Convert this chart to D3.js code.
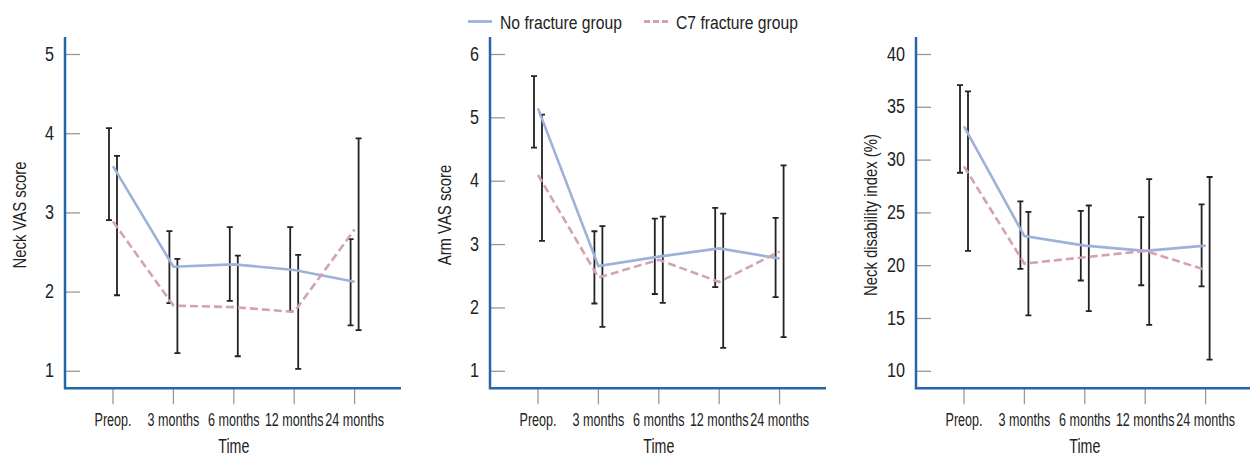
<!DOCTYPE html>
<html>
<head>
<meta charset="utf-8">
<script src="https://cdn.jsdelivr.net/npm/d3@7"></script>
<style>
  body { margin: 0; background: #fff; }
  svg text { font-family: "Liberation Sans", Arial, sans-serif; fill: #222; }
</style>
</head>
<body>
<div id="chart-container"></div>
<script>
// Time points shared by all three panels
const categories = ["Preop.", "3 months", "6 months", "12 months", "24 months"];

// Neck VAS score
const neckNoFxMean  = [3.59, 2.32, 2.35, 2.28, 2.13];
const neckNoFxLow   = [2.91, 1.86, 1.89, 1.76, 1.58];
const neckNoFxHigh  = [4.07, 2.77, 2.82, 2.82, 2.67];
const neckC7Mean    = [2.89, 1.83, 1.81, 1.75, 2.79];
const neckC7Low     = [1.96, 1.23, 1.19, 1.03, 1.52];
const neckC7High    = [3.72, 2.42, 2.46, 2.47, 3.94];
const neckTicks     = [1, 2, 3, 4, 5];

// Arm VAS score
const armNoFxMean   = [5.15, 2.66, 2.81, 2.94, 2.78];
const armNoFxLow    = [4.53, 2.07, 2.22, 2.33, 2.17];
const armNoFxHigh   = [5.66, 3.21, 3.41, 3.58, 3.42];
const armC7Mean     = [4.10, 2.48, 2.76, 2.41, 2.89];
const armC7Low      = [3.06, 1.70, 2.08, 1.37, 1.54];
const armC7High     = [5.05, 3.29, 3.44, 3.49, 4.25];
const armTicks      = [1, 2, 3, 4, 5, 6];

// Neck disability index (%)
const ndiNoFxMean   = [33.2, 22.8, 21.9, 21.4, 21.9];
const ndiNoFxLow    = [28.8, 19.7, 18.6, 18.15, 18.05];
const ndiNoFxHigh   = [37.1, 26.1, 25.2, 24.6, 25.8];
const ndiC7Mean     = [29.4, 20.2, 20.8, 21.4, 19.6];
const ndiC7Low      = [21.4, 15.3, 15.7, 14.4, 11.1];
const ndiC7High     = [36.5, 25.1, 25.7, 28.2, 28.4];
const ndiTicks      = [10, 15, 20, 25, 30, 35, 40];

const seriesNames = ["No fracture group", "C7 fracture group"];

const W = 1250, H = 457;
const blue = "#9db2da", pink = "#d4a1b6", axisBlue = "#2366aa";

const svg = d3.select("#chart-container")
  .append("svg")
  .attr("width", W)
  .attr("height", H);

// condensed look: squeeze regular sans horizontally
function squeezed(sel, x, y, sx, rot) {
  return sel.attr("transform", `translate(${x},${y})` + (rot ? ` rotate(${rot})` : "") + ` scale(${sx},1)`);
}

const panels = [
  { x0: 65,  title: "Neck VAS score", ticks: neckTicks,
    series: [
      { mean: neckNoFxMean, low: neckNoFxLow, high: neckNoFxHigh },
      { mean: neckC7Mean, low: neckC7Low, high: neckC7High }
    ] },
  { x0: 490, title: "Arm VAS score", ticks: armTicks,
    series: [
      { mean: armNoFxMean, low: armNoFxLow, high: armNoFxHigh },
      { mean: armC7Mean, low: armC7Low, high: armC7High }
    ] },
  { x0: 916, title: "Neck disability index (%)", ticks: ndiTicks,
    series: [
      { mean: ndiNoFxMean, low: ndiNoFxLow, high: ndiNoFxHigh },
      { mean: ndiC7Mean, low: ndiC7Low, high: ndiC7High }
    ] }
];

const axisTop = 37, axisBottom = 388.3;
const barOffset = [-4, 4];
const lineStyles = [
  { color: blue, dash: null },
  { color: pink, dash: "8,4" }
];

panels.forEach(p => {
  const g = svg.append("g");

  const x = d3.scalePoint()
    .domain(categories)
    .range([p.x0 + 48, p.x0 + 48 + 4 * 60.4]);

  const y = d3.scaleLinear()
    .domain([p.ticks[0], p.ticks[p.ticks.length - 1]])
    .range([371.3, 54.5]);

  // y ticks (inside, grey) and labels
  g.selectAll(".ytick")
    .data(p.ticks)
    .enter()
    .append("line")
    .attr("x1", p.x0)
    .attr("x2", p.x0 + 15)
    .attr("y1", d => y(d))
    .attr("y2", d => y(d))
    .attr("stroke", "#999")
    .attr("stroke-width", 1.3);

  g.selectAll(".ylabel")
    .data(p.ticks)
    .enter()
    .append("text")
    .each(function(d) { squeezed(d3.select(this), p.x0 - 11, y(d) - 1, 0.83); })
    .attr("dy", "0.36em")
    .attr("text-anchor", "end")
    .attr("font-size", "19.5px")
    .text(d => d);

  // x ticks below the axis line
  g.selectAll(".xtick")
    .data(categories)
    .enter()
    .append("line")
    .attr("x1", d => x(d))
    .attr("x2", d => x(d))
    .attr("y1", axisBottom)
    .attr("y2", axisBottom + 16)
    .attr("stroke", "#999")
    .attr("stroke-width", 1.3);

  g.selectAll(".xlabel")
    .data(categories)
    .enter()
    .append("text")
    .each(function(d) { squeezed(d3.select(this), x(d), 426, 0.68); })
    .attr("text-anchor", "middle")
    .attr("font-size", "18.5px")
    .text(d => d);

  // axis lines
  g.append("path")
    .attr("d", `M${p.x0},${axisTop}V${axisBottom}H${p.x0 + 336}`)
    .attr("fill", "none")
    .attr("stroke", axisBlue)
    .attr("stroke-width", 2.5);

  // axis titles
  squeezed(g.append("text"), (p.x0 + 48 + p.x0 + 48 + 4 * 60.4) / 2, 453, 0.73)
    .attr("text-anchor", "middle")
    .attr("font-size", "19.5px")
    .text("Time");

  squeezed(g.append("text"), p.x0 - 39, 215, 0.8, -90)
    .attr("text-anchor", "middle")
    .attr("font-size", "18.6px")
    .text(p.title);

  // error bars
  p.series.forEach((s, si) => {
    const bars = g.append("g")
      .attr("stroke", "#222")
      .attr("stroke-width", 1.8)
      .attr("fill", "none");
    categories.forEach((c, i) => {
      const bx = x(c) + barOffset[si];
      const yh = y(s.high[i]), yl = y(s.low[i]);
      bars.append("path")
        .attr("d", `M${bx},${yh}V${yl}M${bx - 3},${yh}H${bx + 3}M${bx - 3},${yl}H${bx + 3}`);
    });
  });

  // mean lines
  p.series.forEach((s, si) => {
    const line = d3.line()
      .x((d, i) => x(categories[i]))
      .y(d => y(d));
    g.append("path")
      .datum(s.mean)
      .attr("d", line)
      .attr("fill", "none")
      .attr("stroke", lineStyles[si].color)
      .attr("stroke-width", 2.6)
      .attr("stroke-dasharray", lineStyles[si].dash);
  });
});

// legend
const legendItems = [
  { x: 468, name: seriesNames[0], style: lineStyles[0] },
  { x: 644, name: seriesNames[1], style: lineStyles[1] }
];
const leg = svg.append("g");
legendItems.forEach(item => {
  leg.append("line")
    .attr("x1", item.x)
    .attr("x2", item.x + 24)
    .attr("y1", 21.5)
    .attr("y2", 21.5)
    .attr("stroke", item.style.color)
    .attr("stroke-width", 2.8)
    .attr("stroke-dasharray", item.style.dash ? "6,3" : null);
  squeezed(leg.append("text"), item.x + 32, 28.5, 0.825)
    .attr("font-size", "19px")
    .text(item.name);
});
</script>
</body>
</html>
